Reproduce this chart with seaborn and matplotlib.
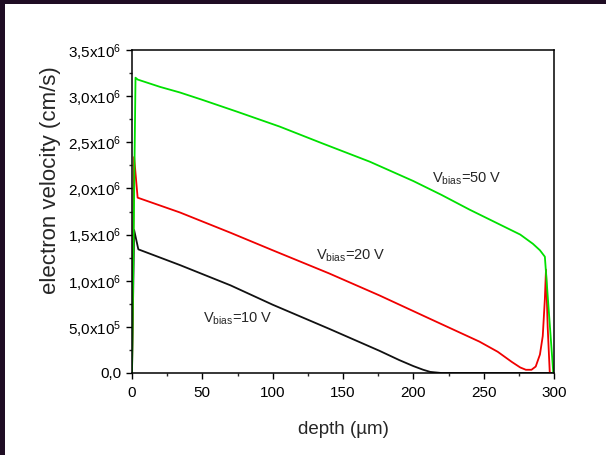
import matplotlib
matplotlib.use("Agg")
import matplotlib.pyplot as plt
from matplotlib.patches import Rectangle
from matplotlib.ticker import MultipleLocator, FixedLocator, FixedFormatter
import numpy as np
import pandas as pd
import seaborn as sns

# ---- data (depth in um, velocity in cm/s) ----
depth_10v = [0, 1.5, 4.5, 34, 70, 100, 140, 176, 190, 200, 207, 212, 220, 300]
vel_10v = [0, 1.55e6, 1.34e6, 1.17e6, 0.95e6, 0.74e6, 0.48e6, 0.24e6, 0.14e6, 0.075e6,
           0.035e6, 0.012e6, 0, 0]

depth_20v = [0, 1.5, 4, 34, 70, 100, 140, 176, 210, 247, 260, 270, 276, 280, 284, 287,
             290, 292, 293.5, 294.3, 295.5, 297]
vel_20v = [0, 2.34e6, 1.90e6, 1.74e6, 1.52e6, 1.33e6, 1.08e6, 0.84e6, 0.60e6, 0.34e6,
           0.23e6, 0.12e6, 0.06e6, 0.035e6, 0.035e6, 0.07e6, 0.20e6, 0.40e6, 0.80e6,
           1.12e6, 0.50e6, 0]

depth_50v = [0, 2.5, 4, 20, 34, 50, 75, 105, 135, 169, 200, 220, 240, 260, 276, 285, 290,
             293.5, 299.5]
vel_50v = [0, 3.20e6, 3.18e6, 3.10e6, 3.04e6, 2.96e6, 2.83e6, 2.67e6, 2.49e6, 2.29e6,
           2.08e6, 1.93e6, 1.77e6, 1.62e6, 1.50e6, 1.40e6, 1.33e6, 1.26e6, 0]

series_names = ["10 V", "20 V", "50 V"]
series_colors = ["#111111", "#f00000", "#00e000"]

x_ticks = [0, 50, 100, 150, 200, 250, 300]
y_ticks = [0, 0.5e6, 1.0e6, 1.5e6, 2.0e6, 2.5e6, 3.0e6, 3.5e6]
y_tick_labels = ["0,0", "5,0x10$^{5}$", "1,0x10$^{6}$", "1,5x10$^{6}$", "2,0x10$^{6}$",
                 "2,5x10$^{6}$", "3,0x10$^{6}$", "3,5x10$^{6}$"]

annotations = [("V$_{bias}$=10 V", 50.2, 0.59e6),
               ("V$_{bias}$=20 V", 131, 1.27e6),
               ("V$_{bias}$=50 V", 213, 2.10e6)]

df = pd.concat([
    pd.DataFrame({"depth": depth_10v, "vel": vel_10v, "bias": series_names[0]}),
    pd.DataFrame({"depth": depth_20v, "vel": vel_20v, "bias": series_names[1]}),
    pd.DataFrame({"depth": depth_50v, "vel": vel_50v, "bias": series_names[2]}),
], ignore_index=True)

sns.set_style("ticks")
plt.rcParams["font.family"] = ["Liberation Sans", "DejaVu Sans"]
plt.rcParams["mathtext.fontset"] = "custom"
plt.rcParams["mathtext.rm"] = "Liberation Sans"
plt.rcParams["mathtext.it"] = "Liberation Sans"
plt.rcParams["mathtext.bf"] = "Liberation Sans"

fig = plt.figure(figsize=(6.06, 4.55), dpi=100, facecolor="#1f0d24")
fig.patches.append(Rectangle((5 / 606, 0), 1, (455 - 4) / 455, transform=fig.transFigure,
                             facecolor="white", edgecolor="none", zorder=-10))
ax = fig.add_axes([132 / 606, (455 - 373) / 455, (554 - 132) / 606, (373 - 50) / 455])

sns.lineplot(data=df, x="depth", y="vel", hue="bias", palette=dict(zip(series_names, series_colors)),
             estimator=None, sort=False, linewidth=1.3, legend=False, ax=ax)

ax.set_xlim(0, 300)
ax.set_ylim(0, 3.5e6)
ax.xaxis.set_major_locator(FixedLocator(x_ticks))
ax.xaxis.set_minor_locator(MultipleLocator(25))
ax.yaxis.set_major_locator(FixedLocator(y_ticks))
ax.yaxis.set_major_formatter(FixedFormatter(y_tick_labels))
ax.yaxis.set_minor_locator(MultipleLocator(0.25e6))

for s in ax.spines.values():
    s.set_linewidth(1.1)
    s.set_color("black")
ax.tick_params(which="major", length=4.5, width=1.0, labelsize=11, pad=3, colors="black")
ax.tick_params(which="minor", length=2.5, width=1.0)
ax.tick_params(axis="x", pad=5)

ax.set_xlabel("depth (µm)", fontsize=13.5)
ax.set_ylabel("electron velocity (cm/s)", fontsize=16)
ax.xaxis.set_label_coords(0.502, -0.148)
ax.yaxis.set_label_coords(-0.168, 0.598)

for txt, xv, yv in annotations:
    ax.text(xv, yv, txt, fontsize=10.5, ha="left", va="center")

fig.savefig("out.png", dpi=100, facecolor=fig.get_facecolor())
